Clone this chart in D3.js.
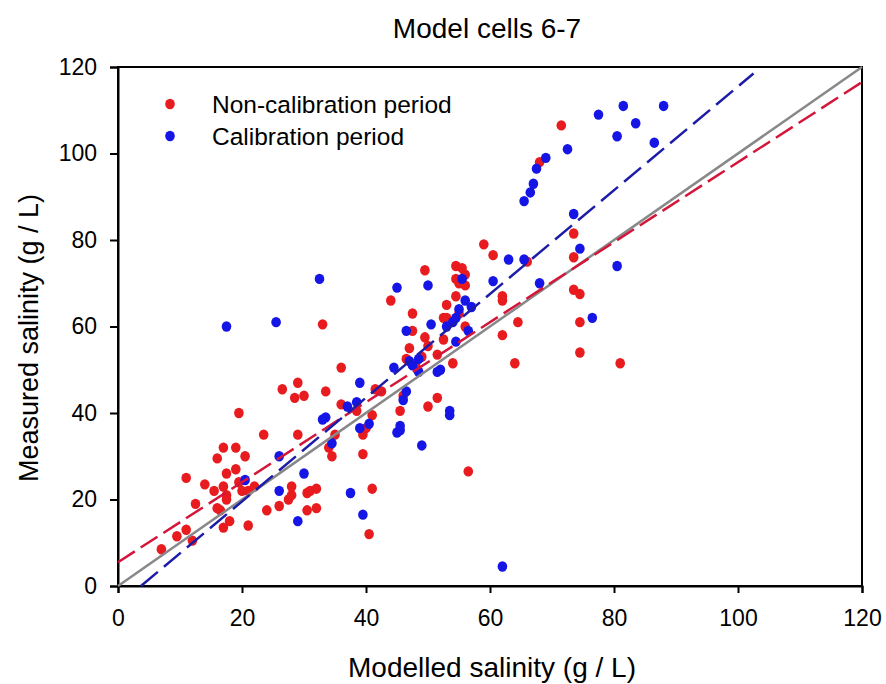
<!DOCTYPE html>
<html>
<head>
<meta charset="utf-8">
<script src="https://cdn.jsdelivr.net/npm/d3@7"></script>
<style>
  body { margin: 0; background: #fff; }
  svg { font-family: "Liberation Sans", Arial, sans-serif; }
</style>
</head>
<body>
<div id="chart"></div>
<script>
const nonCalX = [7, 9.5, 11, 11, 12, 12.5, 14, 15.5, 16, 16, 16.5, 17, 17, 17.5, 17, 17.5, 17.5, 18, 19, 19, 19.5, 19.5, 20, 20.5, 21, 21, 22, 23.5, 24, 26, 26.5, 27.5, 28, 28, 28.5, 29, 29, 30, 30.5, 30.5, 31, 32, 32, 33, 33.5, 34, 34.5, 35, 36, 36, 38.5, 39.5, 39.5, 40, 40.5, 41, 41, 41.5, 42.5, 44, 45.5, 46, 46.5, 47, 47.5, 47.5, 48, 49, 49.5, 49.5, 50, 50, 51.5, 51.5, 52.5, 52.5, 53, 53, 54, 54.5, 54.5, 54.5, 55, 55, 55.5, 56, 56, 56, 56.5, 59, 60.5, 62, 62, 62, 64, 64.5, 66, 68, 71.5, 73.5, 73.5, 73.5, 74.5, 74.5, 74.5, 81];
const nonCalY = [8.5, 11.5, 13, 25, 10.5, 19, 23.5, 22, 18, 29.5, 17.5, 32, 13.5, 26, 23, 21, 20, 15, 27, 32, 40, 24, 22, 30, 22, 14, 23, 35, 17.5, 18.5, 45.5, 20, 21, 23, 43.5, 35, 47, 44, 17.5, 21.5, 22, 18, 22.5, 60.5, 45, 32, 30, 35, 50.5, 42, 40.5, 35, 30.5, 36.5, 12, 22.5, 39.5, 45.5, 45, 66, 40.5, 44, 52.5, 55, 63, 59, 51, 53, 73, 57.5, 55.5, 41.5, 43.5, 53.5, 57, 62, 65, 62, 51.5, 74, 71, 67, 63, 70, 73.5, 72, 69.5, 60, 26.5, 79, 76.5, 67, 66, 58, 51.5, 61, 75, 98, 106.5, 81.5, 76, 68.5, 67.5, 61, 54, 51.5];

const calX = [17.5, 20.5, 25.5, 26, 26, 29, 30, 32.5, 33, 33.5, 34.5, 37, 37.5, 38.5, 39, 39, 39.5, 40.5, 44.5, 45, 45, 45.5, 45.5, 46, 46.5, 46.5, 47, 47.5, 48.5, 48.5, 49, 50, 50.5, 51.5, 52, 53, 53.5, 53.5, 54, 54.5, 54.5, 55, 55.5, 56, 56.5, 57, 60.5, 62, 63, 65.5, 65.5, 66.5, 67, 67.5, 68, 69, 72.5, 73.5, 74.5, 76.5, 77.5, 80.5, 80.5, 81.5, 83.5, 86.5, 88];
const calY = [60, 24.5, 61, 22, 30, 15, 26, 71, 38.5, 39, 33, 41.5, 21.5, 42.5, 47, 36.5, 16.5, 37.5, 50.5, 35.5, 69, 36, 37, 43, 45, 59, 52, 51, 49.5, 52.5, 32.5, 69.5, 60.5, 49.5, 50, 60, 39.5, 40.5, 61, 62, 56.5, 64, 71, 66, 59, 64.5, 70.5, 4.5, 75.5, 75.5, 89, 91, 93, 96.5, 70, 99, 101, 86, 78, 62, 109, 74, 104, 111, 107, 102.5, 111];

// fitted lines: [x0, y0, x1, y1]
const oneToOne = [0, 0, 120, 120];
const nonCalFit = [0, 5.5, 120, 116.5];
const calFit = [3.7, 0, 102.5, 118.5];

const ticks = [0, 20, 40, 60, 80, 100, 120];

const width = 886;
const height = 684;
const margin = { top: 67, right: 24, bottom: 98, left: 118 };

const x = d3.scaleLinear().domain([0, 120]).range([margin.left, width - margin.right]);
const y = d3.scaleLinear().domain([0, 120]).range([height - margin.bottom, margin.top]);

const svg = d3.select('#chart')
  .append('svg')
  .attr('width', width)
  .attr('height', height)
  ;

// frame
svg.append('rect')
  .attr('x', x(0))
  .attr('y', y(120))
  .attr('width', x(120) - x(0))
  .attr('height', y(0) - y(120))
  .attr('fill', 'none')
  .attr('stroke', '#000')
  .attr('stroke-width', 2)
  ;

const xAxis = svg.append('g')
  .attr('transform', `translate(0,${y(0)})`)
  .call(d3.axisBottom(x).tickValues(ticks).tickSize(7).tickPadding(17))
  ;

const yAxis = svg.append('g')
  .attr('transform', `translate(${x(0)},0)`)
  .call(d3.axisLeft(y).tickValues(ticks).tickSize(8).tickPadding(13))
  ;

[xAxis, yAxis].forEach(function(g) {
  g.select('.domain').attr('stroke-width', 2);
  g.selectAll('.tick line').attr('stroke-width', 2);
  g.selectAll('.tick text')
    .style('font-size', '23px')
    .attr('fill', '#000')
    ;
});

// lines
function drawLine(seg, color, dash, w) {
  svg.append('line')
    .attr('x1', x(seg[0]))
    .attr('y1', y(seg[1]))
    .attr('x2', x(seg[2]))
    .attr('y2', y(seg[3]))
    .attr('stroke', color)
    .attr('stroke-width', w)
    .attr('stroke-dasharray', dash)
    ;
}

function drawPoints(xs, ys, color) {
  svg.append('g')
    .selectAll('ellipse')
    .data(xs.map((v, i) => [v, ys[i]]))
    .join('ellipse')
    .attr('cx', d => x(d[0]))
    .attr('cy', d => y(d[1]))
    .attr('rx', 4.8)
    .attr('ry', 5.2)
    .attr('fill', color)
    ;
}

drawPoints(nonCalX, nonCalY, '#e81b1f');
drawPoints(calX, calY, '#1515e6');

drawLine(oneToOne, '#888', null, 2.5);
drawLine(nonCalFit, '#d4163a', '20 7', 2.5);
drawLine(calFit, '#1c1ca8', '22 8', 2.5);

// legend
const legend = [
  { label: 'Non-calibration period', color: '#e81b1f' },
  { label: 'Calibration period', color: '#1515e6' }
];

const lg = svg.append('g')
  .selectAll('g')
  .data(legend)
  .join('g')
  .attr('transform', (d, i) => `translate(170,${104 + i * 32})`)
  ;

lg.append('ellipse')
  .attr('rx', 4.8)
  .attr('ry', 5.2)
  .attr('fill', d => d.color)
  ;

lg.append('text')
  .attr('x', 42)
  .attr('dy', '0.36em')
  .style('font-size', '24.5px')
  .text(d => d.label)
  ;

// titles
svg.append('text')
  .attr('x', 487)
  .attr('y', 38)
  .attr('text-anchor', 'middle')
  .style('font-size', '28px')
  .text('Model cells 6-7')
  ;

svg.append('text')
  .attr('x', 492)
  .attr('y', 677)
  .attr('text-anchor', 'middle')
  .style('font-size', '28px')
  .text('Modelled salinity (g / L)')
  ;

svg.append('text')
  .attr('transform', `translate(38,338) rotate(-90)`)
  .attr('text-anchor', 'middle')
  .style('font-size', '27px')
  .text('Measured salinity (g / L)')
  ;
</script>
</body>
</html>
